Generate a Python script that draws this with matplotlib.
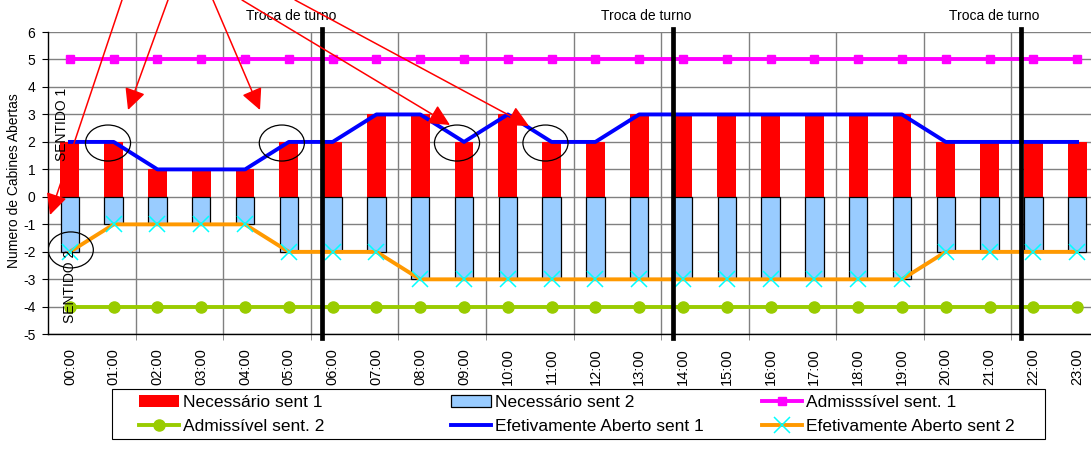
import matplotlib
matplotlib.use("Agg")
import matplotlib.pyplot as plt
from matplotlib.patches import Ellipse, Rectangle, FancyArrowPatch
import numpy as np

plt.rcParams["font.family"] = ["Liberation Sans", "DejaVu Sans"]
plt.rcParams["axes.unicode_minus"] = False

# hourly values (cabins open per direction)
hours = [f"{h:02d}:00" for h in range(24)]
nec_s1 = [2, 2, 1, 1, 1, 2, 2, 3, 3, 2, 3, 2, 2, 3, 3, 3, 3, 3, 3, 3, 2, 2, 2, 2]
nec_s2 = [-2, -1, -1, -1, -1, -2, -2, -2, -3, -3, -3, -3, -3, -3, -3, -3, -3, -3, -3, -3, -2, -2, -2, -2]
adm_s1 = [5, 5, 5, 5, 5, 5, 5, 5, 5, 5, 5, 5, 5, 5, 5, 5, 5, 5, 5, 5, 5, 5, 5, 5]
adm_s2 = [-4, -4, -4, -4, -4, -4, -4, -4, -4, -4, -4, -4, -4, -4, -4, -4, -4, -4, -4, -4, -4, -4, -4, -4]
aberto_s1 = [2, 2, 1, 1, 1, 2, 2, 3, 3, 2, 3, 2, 2, 3, 3, 3, 3, 3, 3, 3, 2, 2, 2, 2]
aberto_s2 = [-2, -1, -1, -1, -1, -2, -2, -2, -3, -3, -3, -3, -3, -3, -3, -3, -3, -3, -3, -3, -2, -2, -2, -2]

# shift changes (between categories) and highlighted points
turno_x = [5.76, 13.77, 21.73]
turno_lbl_x = [5.05, 13.17, 21.1]
circulos = [(0.87, 1.96), (4.84, 1.96), (0.02, -1.93), (8.84, 1.96), (10.86, 1.96)]

W, H = 1091, 449
fig = plt.figure(figsize=(W / 100, H / 100), dpi=100)
ax = fig.add_axes([48 / W, 1 - 334.3 / H, 1051 / W, 302.3 / H])

x = np.arange(len(hours))
b1 = ax.bar(x, nec_s1, width=0.43, color="#FF0000", zorder=2)
b2 = ax.bar(x, nec_s2, width=0.42, color="#99CCFF", edgecolor="black", lw=0.9, zorder=2)
l_adm1, = ax.plot(x, adm_s1, color="#FF00FF", lw=2.8, marker="s", ms=6, zorder=3)
l_adm2, = ax.plot(x, adm_s2, color="#99CC00", lw=2.8, marker="o", ms=8, zorder=3)
l_ab1, = ax.plot(x, aberto_s1, color="#0000FF", lw=2.8, zorder=3)
l_ab2, = ax.plot(x, aberto_s2, color="#FF9900", lw=2.8, marker="x", ms=11,
                 mec="#00FFFF", mew=1.1, zorder=3)

ax.set_xlim(-0.5, 23.5)
ax.set_ylim(-5, 6)
ax.set_yticks(range(-5, 7))
ax.set_xticks(x)
ax.set_xticklabels(hours, rotation=90, fontsize=10.5)
ax.set_xticks(np.arange(1.5, 23, 2), minor=True)
ax.tick_params(axis="x", which="major", length=0, pad=10)
ax.tick_params(axis="x", which="minor", length=4, direction="out", color="#808080")
ax.tick_params(axis="y", length=4, direction="out", pad=5, labelsize=10)
ax.grid(True, axis="y", color="#808080", lw=1.0)
ax.grid(True, axis="x", which="minor", color="#808080", lw=1.0)
ax.set_axisbelow(True)
for s in ("top", "right"):
    ax.spines[s].set_visible(False)
for s in ("left", "bottom"):
    ax.spines[s].set_color("black")
    ax.spines[s].set_linewidth(1.0)

# shift-change markers
for tx, lx in zip(turno_x, turno_lbl_x):
    ax.plot([tx, tx], [6.1, -5.15], color="black", lw=3.4, zorder=5, clip_on=False)
    ax.text(lx, 6.58, "Troca de turno", ha="center", va="center", fontsize=10)

for cx, cy in circulos:
    ax.add_patch(Ellipse((cx, cy), 1.03, 1.31, fill=False, ec="black", lw=0.9, zorder=6))

ax.text(-0.18, 2.65, "SENTIDO 1", rotation=90, ha="center", va="center", fontsize=10, zorder=7)
ax.text(0.0, -3.27, "SENTIDO 2", rotation=90, ha="center", va="center", fontsize=10, zorder=7)

fig.text(14 / W, 1 - 181 / H, "Numero de Cabines Abertas", rotation=90,
         ha="center", va="center", fontsize=10)

# red call-out arrows coming from above the plot (image pixels)
setas = [((122, 0), (50, 215)), ((168, 0), (128, 110)), ((213, 0), (260, 110)),
         ((242, 0), (450, 125)), ((295, 0), (529, 126))]
for (x0, y0), (x1, y1) in setas:
    fig.add_artist(FancyArrowPatch((x0 / W, 1 - y0 / H), (x1 / W, 1 - y1 / H),
                                   transform=fig.transFigure,
                                   arrowstyle="-|>,head_length=0.65,head_width=0.32",
                                   mutation_scale=20, color="#FF0000", lw=1.1,
                                   shrinkA=0, shrinkB=0, zorder=10))

# legend: three equal-width columns inside one frame
cols = [([b1, l_adm2], ["Necessário sent 1", "Admissível sent. 2"], 139),
        ([b2, l_ab1], ["Necessário sent 2", "Efetivamente Aberto sent 1"], 451),
        ([l_adm1, l_ab2], ["Admisssível sent. 1", "Efetivamente Aberto sent 2"], 762)]
for hs, ls, px in cols:
    fig.legend(hs, ls, loc="center left", bbox_to_anchor=(px / W, 1 - 414.5 / H),
               frameon=False, fontsize=12.5, handlelength=2.3, handletextpad=0.25,
               borderpad=0, borderaxespad=0, labelspacing=0.55, numpoints=1)
fig.add_artist(Rectangle((112 / W, 1 - 439 / H), (1045 - 112) / W, 50 / H,
                         transform=fig.transFigure, fill=False, ec="black", lw=0.8))

fig.savefig("out.png", dpi=100)
